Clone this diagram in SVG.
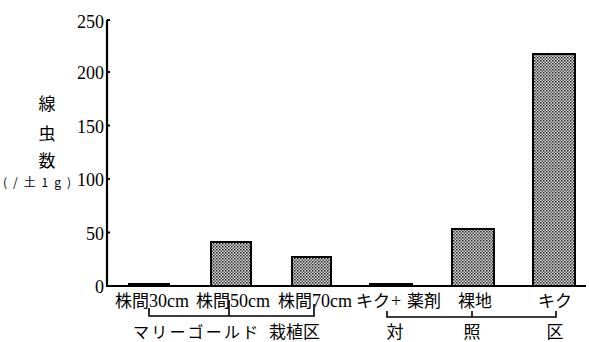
<svg xmlns="http://www.w3.org/2000/svg" width="589" height="342" viewBox="0 0 589 342">
<style>
.ax{stroke:#000;stroke-width:2.2;fill:none}
.br{stroke:#000;stroke-width:1.6;fill:none}
.bar{fill:url(#dots);stroke:#000;stroke-width:2}
.num{font-family:"Liberation Serif",serif;font-size:18px;fill:#000}
.jp{font-family:"Noto Sans CJK JP",sans-serif;font-size:17px;fill:#000}
.ser{font-family:"Liberation Serif",serif;font-size:18px}
</style>
<defs>
<pattern id="dots" width="3" height="3" patternUnits="userSpaceOnUse">
<rect width="3" height="3" fill="#d8d8d8"/>
<rect x="0" y="0" width="1.5" height="1.5" fill="#222"/>
<rect x="1.5" y="1.5" width="1.5" height="1.5" fill="#555"/>
</pattern>
</defs>
<g id="axes">
<path class="ax" d="M107 20 V286 H586"/>
<path class="ax" d="M107 232.5 h3 M107 179 h3 M107 125.5 h3 M107 72 h3 M107 20 h3"/>
<text class="num" x="104" y="293" text-anchor="end">0</text>
<text class="num" x="104" y="239.5" text-anchor="end">50</text>
<text class="num" x="104" y="186" text-anchor="end">100</text>
<text class="num" x="104" y="132.5" text-anchor="end">150</text>
<text class="num" x="104" y="79" text-anchor="end">200</text>
<text class="num" x="104" y="28" text-anchor="end">250</text>
</g>
<g id="ylabel">
<text class="jp" x="47" y="109.5" text-anchor="middle">線</text>
<text class="jp" x="47" y="139.5" text-anchor="middle">虫</text>
<text class="jp" x="47" y="166.5" text-anchor="middle">数</text>
<text class="jp" x="3" y="187" style="font-size:12px" textLength="68" lengthAdjust="spacing">(/土1g)</text>
</g>
<g id="bar-30cm"><rect class="bar" x="129" y="284" width="40" height="2"/></g>
<g id="bar-50cm"><rect class="bar" x="211" y="242" width="40" height="44"/></g>
<g id="bar-70cm"><rect class="bar" x="292" y="257" width="39" height="29"/></g>
<g id="bar-kiku-yakuzai"><rect class="bar" x="370" y="284" width="42" height="2"/></g>
<g id="bar-rachi"><rect class="bar" x="452" y="229" width="42" height="57"/></g>
<g id="bar-kiku"><rect class="bar" x="533" y="54" width="42" height="232"/></g>
<g id="xlabels">
<text class="jp" x="115" y="307">株間<tspan class="ser">30cm</tspan></text>
<text class="jp" x="196" y="307">株間<tspan class="ser">50cm</tspan></text>
<text class="jp" x="278" y="307">株間<tspan class="ser">70cm</tspan></text>
<text class="jp" x="356" y="307">キク<tspan class="ser" x="391">+</tspan><tspan x="407">薬剤</tspan></text>
<text class="jp" x="458" y="307">裸地</text>
<text class="jp" x="538" y="307">キク</text>
</g>
<g id="connectors">
<path class="br" d="M149 308 V316 H314 V304 M229 300 V316"/>
<path class="br" d="M387 311 V317 H556 V311 M472 311 V317"/>
</g>
<g id="group-labels">
<text class="jp" x="133" y="338" style="font-size:16px;letter-spacing:2.2px">マリーゴールド</text>
<text class="jp" x="269" y="338">栽植区</text>
<text class="jp" x="395" y="338" text-anchor="middle">対</text>
<text class="jp" x="472" y="338" text-anchor="middle">照</text>
<text class="jp" x="555" y="338" text-anchor="middle">区</text>
</g>
</svg>
